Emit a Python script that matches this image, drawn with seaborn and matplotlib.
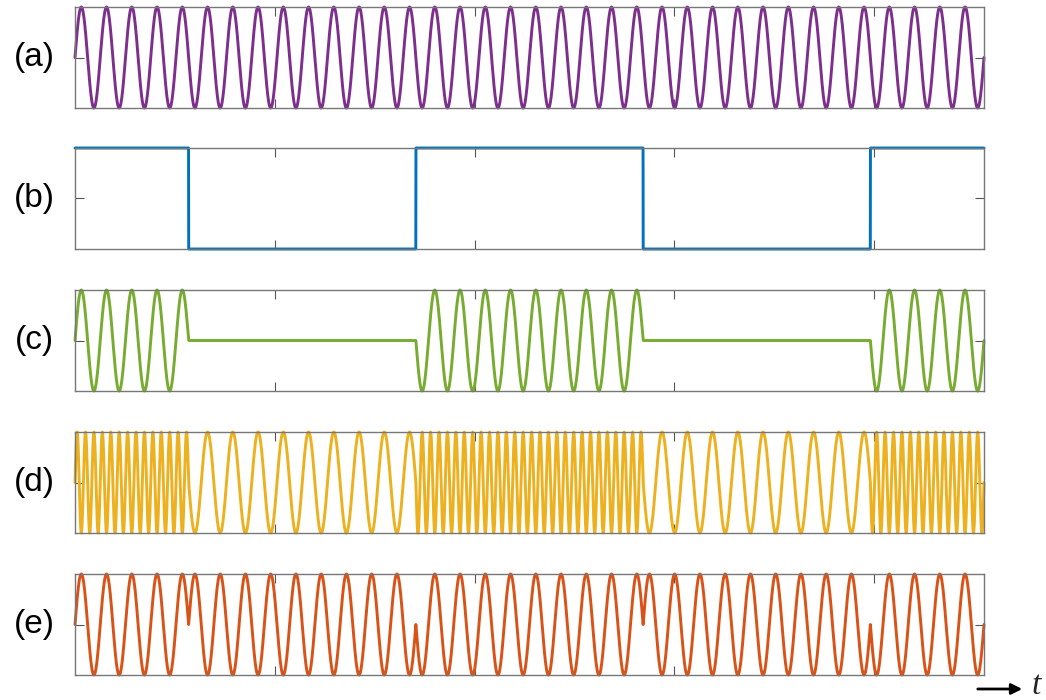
import numpy as np
import pandas as pd
import seaborn as sns
import matplotlib
matplotlib.use('Agg')
import matplotlib.pyplot as plt

sns.set_style('white')
plt.rcParams['font.family'] = ['Liberation Sans', 'DejaVu Sans']

# data
bits = [1, 0, 1, 0, 1]          # first and last bit only half shown
bit_period = 1.1375             # in axis units (ticks at 1..4)
t_end = 4.55
carrier_cycles = 9              # carrier cycles per bit
fsk_mark_cycles = 27            # FSK cycles per bit for a 1
fsk_space_cycles = 9            # FSK cycles per bit for a 0
x_ticks = [1, 2, 3, 4]
labels = ['(a)', '(b)', '(c)', '(d)', '(e)']
colors = ['#7E2F8E', '#0072BD', '#77AC30', '#EDB120', '#D95319']

t = np.linspace(0, t_end, 12001)
u = t / bit_period
idx = np.clip(np.floor(u + 0.5).astype(int), 0, len(bits) - 1)
b = np.array(bits)[idx]

carrier = np.sin(2 * np.pi * carrier_cycles * u)
square = b.astype(float)
ask = b * carrier
fsk = np.where(b == 1, np.sin(2 * np.pi * fsk_mark_cycles * u),
               np.sin(2 * np.pi * fsk_space_cycles * u))
psk = np.where(b == 1, 1, -1) * carrier

signals = [carrier, square, ask, fsk, psk]
ylims = [(-1, 1), (0, 1), (-1, 1), (-1, 1), (-1, 1)]

fig = plt.figure(figsize=(10.46, 7.0), dpi=100)
left = 75 / 1046
width = 909 / 1046
tops = [7, 148, 290, 432, 574]
h = 101

for i, (sig, lab, col, yl) in enumerate(zip(signals, labels, colors, ylims)):
    ax = fig.add_axes([left, 1 - (tops[i] + h) / 700, width, h / 700])
    df = pd.DataFrame({'t': t, 'v': sig})
    sns.lineplot(data=df, x='t', y='v', ax=ax, color=col, linewidth=2.1,
                 estimator=None, sort=False, clip_on=False)
    ax.set_xlim(0, t_end)
    ax.set_ylim(*yl)
    ax.set_xticks(x_ticks)
    ax.set_yticks([(yl[0] + yl[1]) / 2])
    ax.tick_params(direction='in', top=True, right=True, left=True, bottom=True,
                   length=6.5, width=0.8, color='#555555',
                   labelbottom=False, labelleft=False)
    ax.set_xlabel('')
    ax.set_ylabel('')
    for s in ax.spines.values():
        s.set_color('#777777')
        s.set_linewidth(1.0)
    fig.text(34 / 1046, 1 - (tops[i] + h / 2) / 700, lab, fontsize=24,
             ha='center', va='center', color='black')

fig.patches.append(matplotlib.patches.FancyArrowPatch(
    (975 / 1046, 1 - 689 / 700), (1025 / 1046, 1 - 689 / 700),
    transform=fig.transFigure, arrowstyle='-|>', mutation_scale=16,
    color='black', linewidth=2.0))
fig.text(1036 / 1046, 1 - 686 / 700, 't', fontsize=24, style='italic',
         family=['Liberation Serif', 'DejaVu Serif'], ha='center', va='center')

fig.savefig('out.png', dpi=100)
